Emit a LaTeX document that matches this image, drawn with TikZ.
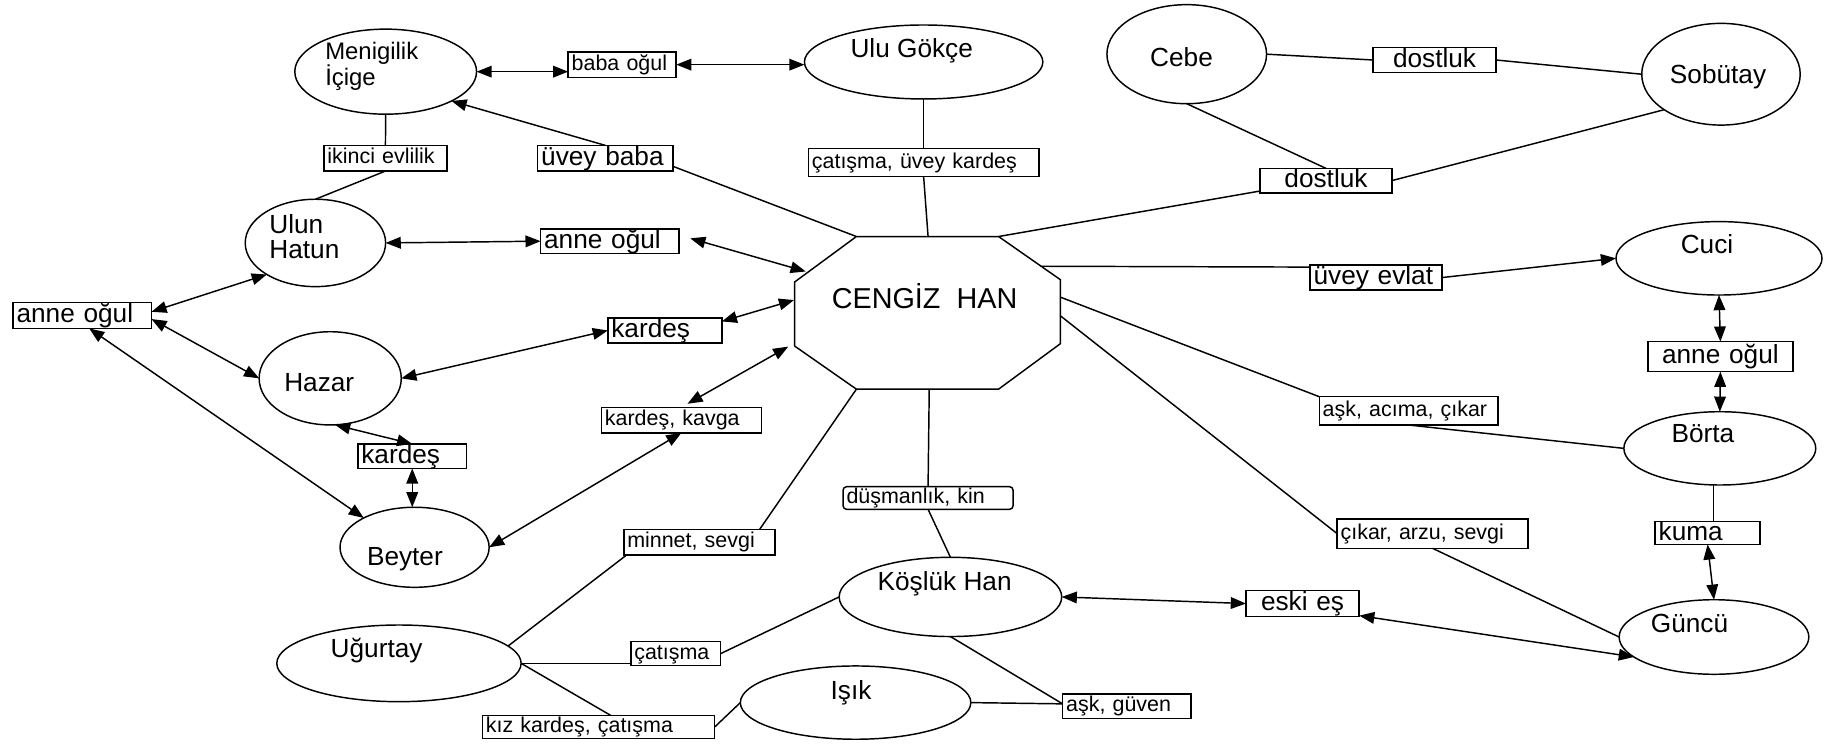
\documentclass[tikz,border=0pt]{standalone}
\usepackage{fontspec}
\setmainfont{Liberation Sans}
\usetikzlibrary{arrows.meta,shapes.geometric}

\begin{document}
\begin{tikzpicture}[x=1pt,y=-1pt,
  link/.style={line width=1.25pt, black},
  both/.style={link, {Triangle[length=13pt,width=10pt]}-{Triangle[length=13pt,width=10pt]}},
  tohead/.style={link, -{Triangle[length=13pt,width=10pt]}},
  person/.style={ellipse, draw, line width=1.25pt, inner sep=0pt, outer sep=0pt},
  nm/.style={font=\fontsize{22.5}{26}\selectfont, inner sep=0pt, text height=16pt, text depth=0pt},
  nm2/.style={font=\fontsize{22.5}{21}\selectfont, inner sep=0pt, align=left},
  chief/.style={font=\fontsize{24.7}{28}\selectfont, inner sep=0pt, text height=17.7pt, text depth=0pt},
  lbl/.style={draw, line width=1.25pt, inner xsep=3pt, inner ysep=0pt, outer sep=0pt, align=left},
  sm/.style={lbl, font=\fontsize{18.4}{21}\selectfont, text height=13pt, text depth=3.5pt},
  lg/.style={lbl, font=\fontsize{22.5}{26}\selectfont, text height=16pt, text depth=3.5pt}]

\useasboundingbox (0,0) rectangle (1568,639);
\fill[white] (0,0) rectangle (1568,639);

% ---- people ----
\node[person, minimum width=156pt, minimum height=73pt] (meni) at (331,61.5) {};
\node[nm2, font=\fontsize{20.5}{20}\selectfont, anchor=west] (meni-t) at (279,57) {Menigilik\\İçige};
\node[person, minimum width=204.6pt, minimum height=63.5pt] (ulug) at (792.7,53.2) {};
\node[nm] (ulug-t) at (782.5,41.5) {Ulu Gökçe};
\node[person, minimum width=137pt, minimum height=85pt] (cebe) at (1018.5,46.5) {};
\node[nm] (cebe-t) at (1014,49) {Cebe};
\node[person, minimum width=136pt, minimum height=87.3pt] (sob) at (1477,63.7) {};
\node[nm] (sob-t) at (1474.5,63.5) {Sobütay};
\node[person, minimum width=120.5pt, minimum height=75pt] (ulun) at (270.7,208.5) {};
\node[nm2, anchor=west] (ulun-t) at (231,203) {Ulun\\Hatun};
\node[person, minimum width=122pt, minimum height=80pt] (hazar) at (283.4,324.7) {};
\node[nm] (hazar-t) at (274,327.6) {Hazar};
\node[person, minimum width=128pt, minimum height=68.7pt] (beyter) at (355.8,469.7) {};
\node[nm] (beyter-t) at (347.5,477.7) {Beyter};
\node[person, minimum width=176.8pt, minimum height=63pt] (cuci) at (1475.3,221.7) {};
\node[nm] (cuci-t) at (1465,209.4) {Cuci};
\node[person, minimum width=164.7pt, minimum height=62.9pt] (borta) at (1476,384.8) {};
\node[nm] (borta-t) at (1461.5,371.9) {Börta};
\node[person, minimum width=162.8pt, minimum height=64pt] (guncu) at (1471,546.7) {};
\node[nm] (guncu-t) at (1450,535) {Güncü};
\node[person, minimum width=191pt, minimum height=68pt] (koslu) at (815.7,512.3) {};
\node[nm] (koslu-t) at (810.7,499.2) {Köşlük Han};
\node[person, minimum width=209.7pt, minimum height=65.8pt] (ugur) at (342.4,569.3) {};
\node[nm] (ugur-t) at (323.2,556.4) {Uğurtay};
\node[person, minimum width=197.8pt, minimum height=62.9pt] (isik) at (734.3,603) {};
\node[nm] (isik-t) at (730.4,592.2) {Işık};

% ---- central octagon ----
\coordinate (o1) at (735,203);
\coordinate (o2) at (857,203);
\coordinate (o3) at (910,240);
\coordinate (o4) at (910,295);
\coordinate (o5) at (857,334);
\coordinate (o6) at (735,334);
\coordinate (o7) at (682,297);
\coordinate (o8) at (682,242);
\draw[link] (o1) -- (o2) -- (o3) -- (o4) -- (o5) -- (o6) -- (o7) -- (o8) -- cycle;
\node[chief] (cengiz) at (793.5,256) {CENGİZ~~HAN};
\coordinate (c-n) at (796.5,203);
\coordinate (c-ue) at (893,228.5);
\coordinate (c-e1) at (910,255);
\coordinate (c-e2) at (910,271);
\coordinate (c-s) at (797.5,334);
\coordinate (c-wn) at (691.5,233);
\coordinate (c-w) at (681.5,257.5);
\coordinate (c-ws) at (676.5,297.5);

% ---- relation labels ----
\node[sm, text width=86.7pt, minimum height=22pt] (baba) at (534,55.5) {baba oğul};
\node[sm, text width=99.6pt, minimum height=21.8pt] (ikinci) at (330.8,135.9) {ikinci evlilik};
\node[lg, text width=110.3pt, minimum height=21.8pt] (uvbaba) at (519.6,135.7) {üvey baba};
\node[sm, text width=191.8pt, minimum height=24.3pt] (catuk) at (792.7,139.5) {çatışma, üvey kardeş};
\node[lg, align=center, text width=99.4pt, minimum height=21.2pt] (dost1) at (1231.2,51.5) {dostluk};
\node[lg, align=center, text width=107.2pt, minimum height=21pt] (dost2) at (1138,155) {dostluk};
\node[lg, text width=112.8pt, minimum height=21pt] (annem) at (523.4,207) {anne oğul};
\node[lg, text width=112.8pt, minimum height=22.3pt] (annel) at (70.6,270.7) {anne oğul};
\node[lg, text width=91.8pt, minimum height=21.5pt] (kardm) at (570.6,283.6) {kardeş};
\node[lg, text width=87.3pt, minimum height=21pt] (kards) at (353.8,391.5) {kardeş};
\node[sm, text width=131.2pt, minimum height=22pt] (kavga) at (584.8,360.5) {kardeş, kavga};
\node[lg, text width=107.3pt, minimum height=21.5pt] (uevlat) at (1181,238.2) {üvey evlat};
\node[lg, align=center, text width=118.3pt, minimum height=25.8pt] (annr) at (1476.5,306.1) {anne oğul};
\node[sm, text width=147.4pt, minimum height=24.3pt] (aska) at (1208.9,352.6) {aşk, acıma, çıkar};
\node[sm, text width=157.8pt, minimum height=25.2pt] (cikar) at (1229.5,458) {çıkar, arzu, sevgi};
\node[lg, text width=84pt, minimum height=19.5pt] (kuma) at (1465.5,457.5) {kuma};
\node[lg, align=center, text width=91.2pt, minimum height=22.3pt] (eskies) at (1117.9,518) {eski eş};
\node[sm, rounded corners=3pt, text width=139.9pt, minimum height=19.4pt] (dusm) at (796.5,427.4) {düşmanlık, kin};
\node[sm, text width=123.7pt, minimum height=22pt] (minnet) at (600.2,465.3) {minnet, sevgi};
\node[sm, text width=71pt, minimum height=20.6pt] (catis) at (579.9,561) {çatışma};
\node[sm, text width=193.4pt, minimum height=19.7pt] (kizk) at (513.7,623.9) {kız kardeş, çatışma};
\node[sm, text width=104.2pt, minimum height=20.9pt] (askg) at (967.1,606) {aşk, güven};

% ---- connectors ----
\draw[both] (meni.east) -- (meni.east -| baba.west);
\draw[both] (baba.east) -- (baba.east -| ulug.west);
\draw[link] (meni.south) -- (ikinci.north);
\draw[link] (ikinci.south) -- (ulun.north);
\draw[link] (o1) -- (uvbaba.-7);
\draw[tohead] (uvbaba.north) -- (meni.-24);
\draw[link] (ulug.south) -- (catuk.north);
\draw[link] (catuk.south) -- (c-n);
\draw[link] (cebe.east) -- (dost1.west);
\draw[link] (dost1.east) -- (sob.west);
\draw[link] (cebe.south) -- (dost2.north);
\draw[link] (sob.212) -- (dost2.east);
\draw[link] (o2) -- (dost2.189);
\draw[link] (c-ue) -- (uevlat.171);
\draw[tohead] (uevlat.east) -- (cuci.west);
\draw[both] (cuci.south) -- (annr.north);
\draw[both] (annr.south) -- (borta.north);
\draw[link] (c-e1) -- (aska.171);
\draw[link] (aska.south) -- (borta.west);
\draw[link] (c-e2) -- (cikar.west);
\draw[link] (cikar.south) -- (guncu.west);
\coordinate (kuma-top) at ([xshift=5pt]kuma.north);
\draw[link] (kuma-top |- borta.south) -- (kuma-top);
\draw[both] (kuma.south) -- (guncu.north);
\draw[both] (eskies.-12) -- (guncu.194);
\draw[both] (koslu.east) -- (eskies.west);
\draw[both] (ulun.east) -- (annem.west);
\draw[both, shorten <=10pt] (annem.5) -- (c-wn);
\draw[both] (annel.3) -- (ulun.213);
\draw[both] (annel.-3) -- (hazar.west);
\draw[both] (annel.-62) -- (beyter.150);
\draw[both] (hazar.east) -- (kardm.west);
\draw[both] (kardm.9) -- (c-w);
\draw[both] (hazar.-84) -- (kards.north);
\draw[both] (kards.south) -- (kards.south |- beyter.north);
\draw[both] (beyter.east) -- (kavga.south);
\draw[both, shorten <=6pt] (kavga.north) -- (c-ws);
\draw[link] (c-s) -- (dusm.north);
\draw[link] (dusm.south) -- (koslu.north);
\draw[link] (o6) -- (minnet.12);
\draw[link] (minnet.190) -- (ugur.9);
\draw[link] (ugur.east) -- (ugur.east -| catis.west);
\draw[link] (catis.east) -- (koslu.west);
\draw[link] (ugur.east) -- (kizk.43);
\draw[link] (kizk.east) -- (isik.west);
\draw[link] (isik.east) -- (askg.178);
\draw[link] (koslu.south) -- (askg.178);
\end{tikzpicture}
\end{document}
